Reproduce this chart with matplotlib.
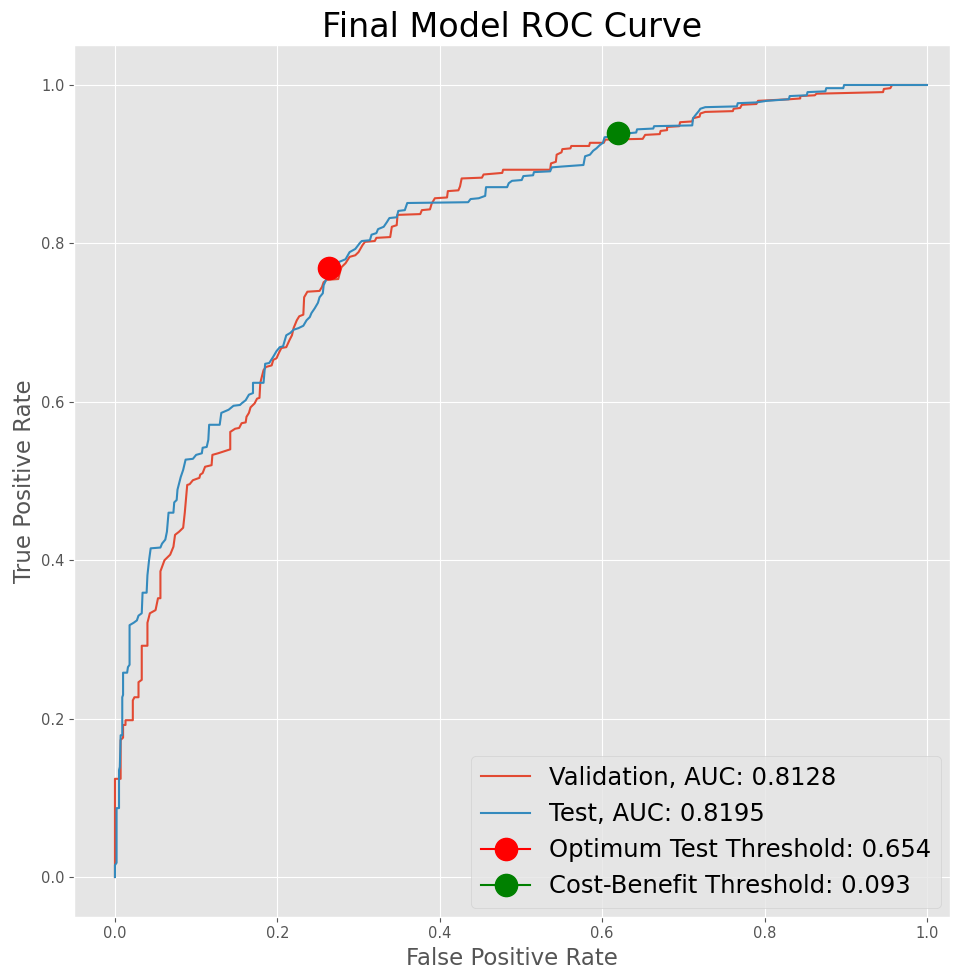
import matplotlib
matplotlib.use('Agg')
import matplotlib.pyplot as plt

plt.style.use('ggplot')

# validation ROC
val_fpr = [0.0, 0.0, 0.007, 0.007, 0.010, 0.010, 0.013, 0.013, 0.022, 0.022, 0.024, 0.029, 0.029,
           0.033, 0.033, 0.040, 0.040, 0.043, 0.050, 0.053, 0.056, 0.056, 0.061, 0.068, 0.072,
           0.074, 0.079, 0.084, 0.086, 0.089, 0.092, 0.096, 0.104, 0.105, 0.108, 0.111, 0.119,
           0.120, 0.127, 0.142, 0.142, 0.148, 0.153, 0.156, 0.161, 0.162, 0.165, 0.167, 0.172,
           0.175, 0.178, 0.179, 0.183, 0.186, 0.193, 0.195, 0.199, 0.202, 0.205, 0.211, 0.215,
           0.218, 0.220, 0.224, 0.227, 0.232, 0.233, 0.237, 0.252, 0.255, 0.257, 0.261, 0.275,
           0.277, 0.279, 0.284, 0.289, 0.296, 0.300, 0.305, 0.308, 0.320, 0.322, 0.339, 0.341,
           0.347, 0.348, 0.376, 0.378, 0.388, 0.390, 0.394, 0.409, 0.410, 0.423, 0.425, 0.427,
           0.452, 0.454, 0.477, 0.478, 0.536, 0.537, 0.543, 0.544, 0.550, 0.551, 0.561, 0.562,
           0.584, 0.585, 0.602, 0.604, 0.650, 0.653, 0.671, 0.672, 0.680, 0.680, 0.695, 0.696,
           0.711, 0.712, 0.720, 0.721, 0.727, 0.761, 0.762, 0.770, 0.772, 0.790, 0.792, 0.831,
           0.844, 0.844, 0.862, 0.864, 0.946, 0.947, 0.955, 0.957, 1.0]
val_tpr = [0.0, 0.124, 0.124, 0.173, 0.176, 0.192, 0.192, 0.198, 0.198, 0.223, 0.227, 0.227, 0.246,
           0.249, 0.292, 0.292, 0.321, 0.333, 0.337, 0.352, 0.352, 0.386, 0.400, 0.407, 0.417,
           0.432, 0.436, 0.441, 0.460, 0.495, 0.496, 0.501, 0.504, 0.508, 0.510, 0.518, 0.520,
           0.533, 0.535, 0.540, 0.562, 0.566, 0.567, 0.573, 0.574, 0.581, 0.586, 0.593, 0.598,
           0.604, 0.605, 0.624, 0.640, 0.644, 0.646, 0.653, 0.655, 0.662, 0.668, 0.669, 0.678,
           0.684, 0.693, 0.703, 0.708, 0.710, 0.732, 0.739, 0.740, 0.745, 0.751, 0.754, 0.755,
           0.763, 0.770, 0.775, 0.783, 0.785, 0.789, 0.798, 0.802, 0.803, 0.807, 0.808, 0.821,
           0.823, 0.836, 0.837, 0.842, 0.843, 0.850, 0.857, 0.858, 0.866, 0.867, 0.872, 0.882,
           0.883, 0.887, 0.889, 0.893, 0.893, 0.901, 0.903, 0.912, 0.915, 0.919, 0.920, 0.923,
           0.923, 0.927, 0.927, 0.931, 0.932, 0.937, 0.938, 0.942, 0.943, 0.947, 0.948, 0.953,
           0.954, 0.958, 0.960, 0.964, 0.966, 0.967, 0.970, 0.971, 0.975, 0.976, 0.980, 0.982,
           0.983, 0.986, 0.987, 0.989, 0.991, 0.995, 0.996, 1.0, 1.0]

# test ROC
test_fpr = [0.0, 0.0, 0.002, 0.002, 0.005, 0.005, 0.006, 0.007, 0.009, 0.009, 0.010, 0.010, 0.015,
            0.016, 0.018, 0.018, 0.023, 0.027, 0.029, 0.033, 0.034, 0.039, 0.040, 0.042, 0.044,
            0.056, 0.058, 0.062, 0.064, 0.066, 0.072, 0.073, 0.076, 0.077, 0.079, 0.081, 0.084,
            0.087, 0.096, 0.100, 0.107, 0.108, 0.113, 0.115, 0.116, 0.129, 0.131, 0.140, 0.146,
            0.154, 0.156, 0.161, 0.165, 0.170, 0.170, 0.183, 0.185, 0.190, 0.195, 0.199, 0.203,
            0.207, 0.211, 0.216, 0.220, 0.226, 0.232, 0.236, 0.240, 0.242, 0.246, 0.250, 0.252,
            0.256, 0.257, 0.260, 0.265, 0.271, 0.277, 0.284, 0.289, 0.296, 0.302, 0.304, 0.314,
            0.316, 0.322, 0.324, 0.331, 0.335, 0.338, 0.347, 0.349, 0.357, 0.360, 0.435, 0.438,
            0.448, 0.456, 0.457, 0.483, 0.485, 0.489, 0.501, 0.503, 0.515, 0.516, 0.536, 0.538,
            0.550, 0.577, 0.579, 0.585, 0.589, 0.593, 0.597, 0.601, 0.603, 0.610, 0.632, 0.642,
            0.643, 0.663, 0.664, 0.711, 0.712, 0.715, 0.719, 0.721, 0.727, 0.766, 0.767, 0.790,
            0.803, 0.830, 0.831, 0.852, 0.853, 0.875, 0.876, 0.897, 0.898, 1.0]
test_tpr = [0.0, 0.015, 0.018, 0.087, 0.087, 0.135, 0.139, 0.179, 0.179, 0.227, 0.230, 0.258, 0.258,
            0.265, 0.268, 0.318, 0.321, 0.324, 0.330, 0.333, 0.359, 0.359, 0.381, 0.400, 0.415,
            0.416, 0.421, 0.426, 0.436, 0.460, 0.460, 0.473, 0.476, 0.489, 0.497, 0.505, 0.514,
            0.527, 0.528, 0.533, 0.535, 0.542, 0.543, 0.552, 0.571, 0.571, 0.586, 0.590, 0.595,
            0.596, 0.598, 0.602, 0.609, 0.611, 0.624, 0.624, 0.648, 0.649, 0.657, 0.664, 0.669,
            0.670, 0.684, 0.687, 0.691, 0.693, 0.696, 0.703, 0.707, 0.712, 0.718, 0.725, 0.732,
            0.737, 0.747, 0.754, 0.766, 0.774, 0.777, 0.780, 0.789, 0.793, 0.801, 0.803, 0.804,
            0.811, 0.813, 0.818, 0.821, 0.827, 0.832, 0.833, 0.841, 0.842, 0.851, 0.852, 0.856,
            0.857, 0.860, 0.871, 0.871, 0.876, 0.879, 0.880, 0.885, 0.886, 0.890, 0.891, 0.896,
            0.897, 0.899, 0.910, 0.912, 0.917, 0.920, 0.924, 0.927, 0.934, 0.935, 0.939, 0.940,
            0.944, 0.945, 0.948, 0.949, 0.958, 0.962, 0.967, 0.970, 0.972, 0.973, 0.977, 0.978,
            0.980, 0.982, 0.986, 0.987, 0.991, 0.992, 0.996, 0.996, 1.0, 1.0]

val_auc = 0.8128
test_auc = 0.8195

# threshold points
opt_point = (0.264, 0.769)
opt_thresh = 0.654
cb_point = (0.619, 0.940)
cb_thresh = 0.093

fig = plt.figure(figsize=(9.57, 9.74), dpi=100)
ax = fig.add_axes([0.0777, 0.0589, 0.9146, 0.8945])

ax.plot(val_fpr, val_tpr, label='Validation, AUC: %.4f' % val_auc)
ax.plot(test_fpr, test_tpr, label='Test, AUC: %.4f' % test_auc)
ax.plot(opt_point[0], opt_point[1], marker='o', color='red', markersize=16,
        label='Optimum Test Threshold: %.3f' % opt_thresh)
ax.plot(cb_point[0], cb_point[1], marker='o', color='green', markersize=16,
        label='Cost-Benefit Threshold: %.3f' % cb_thresh)

ax.set_xlim(-0.05, 1.028)
ax.set_ylim(-0.05, 1.05)
ax.tick_params(labelsize=10.5)
ax.set_xlabel('False Positive Rate', fontsize=16.5)
ax.set_ylabel('True Positive Rate', fontsize=16.5)
ax.set_title('Final Model ROC Curve', fontsize=24)
ax.legend(loc='lower right', fontsize=17.5, borderaxespad=0.35)

plt.savefig('out.png', dpi=100)
